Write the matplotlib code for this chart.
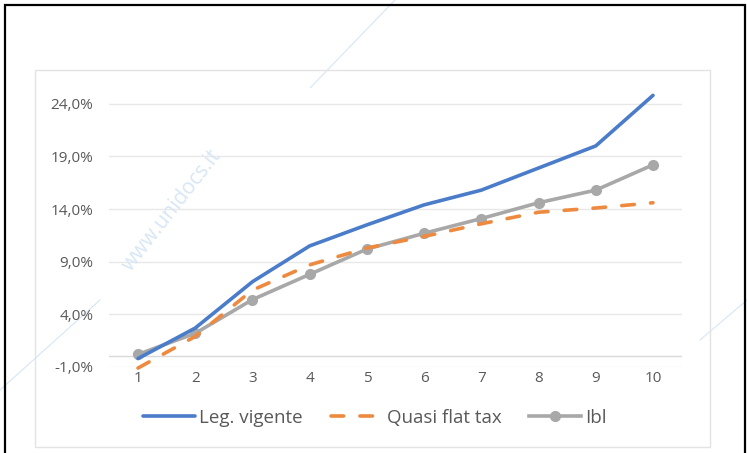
import matplotlib.pyplot as plt
from matplotlib.patches import Rectangle
from matplotlib.lines import Line2D

# data (percent values)
deciles = [1, 2, 3, 4, 5, 6, 7, 8, 9, 10]
leg_vigente = [-0.2, 2.7, 7.1, 10.5, 12.5, 14.4, 15.8, 17.9, 20.0, 24.8]
quasi_flat = [-1.1, 1.9, 6.3, 8.7, 10.3, 11.4, 12.6, 13.7, 14.1, 14.6]
ibl = [0.2, 2.2, 5.4, 7.8, 10.2, 11.7, 13.1, 14.6, 15.8, 18.2]
y_ticks = [-1, 4, 9, 14, 19, 24]

W, H = 747, 453
plt.rcParams['font.family'] = ['Open Sans', 'DejaVu Sans']

fig = plt.figure(figsize=(W / 100, H / 100), dpi=100)

def fx(px):
    return px / W

def fy(py):
    return 1 - py / H

# outer black frame and inner light chart-area box
fig.patches.append(Rectangle((fx(5), fy(470)), fx(740), 465 / H, transform=fig.transFigure,
                             fill=False, edgecolor='black', linewidth=1.6))
fig.patches.append(Rectangle((fx(35), fy(447)), fx(675), 377 / H, transform=fig.transFigure,
                             fill=False, edgecolor='#E3E3E3', linewidth=1.0))

# faint watermark
fig.text(fx(172), fy(210), 'www.unidocs.it', rotation=52, fontsize=15, color='#D8E7F5',
         ha='center', va='center', zorder=0)
fig.add_artist(Line2D([fx(395), fx(255)], [fy(0), fy(145)], color='#D6E6F5', lw=0.8,
                      transform=fig.transFigure, zorder=0))
fig.add_artist(Line2D([fx(100), fx(0)], [fy(300), fy(390)], color='#D6E6F5', lw=0.8,
                      transform=fig.transFigure, zorder=0))
fig.add_artist(Line2D([fx(700), fx(747)], [fy(340), fy(300)], color='#D6E6F5', lw=0.8,
                      transform=fig.transFigure, zorder=0))

ax = fig.add_axes([fx(109.4), fy(367), fx(572.2), (367 - 88) / H])
ax.set_xlim(0.5, 10.5)
ax.set_ylim(-1, 25.5)

ax.plot(deciles, leg_vigente, color='#4A7CC9', lw=2.6, solid_capstyle='round',
        label='Leg. vigente', zorder=3, clip_on=False)
ax.plot(deciles, quasi_flat, color='#EE8A3F', lw=2.6, dashes=(3.5, 4.5),
        dash_capstyle='round', label='Quasi flat tax', zorder=4, clip_on=False)
ax.plot(deciles, ibl, color='#A8A8A8', lw=2.6, marker='o', markersize=7,
        label='Ibl', zorder=2, clip_on=False)

ax.axhline(0, color='#D9D9D9', lw=1.0, zorder=1)
ax.set_yticks(y_ticks)
ax.set_yticklabels([f'{v:.1f}%'.replace('.', ',') for v in y_ticks])
ax.set_xticks(deciles)
ax.grid(axis='y', color='#E8E8E8', lw=1.0, zorder=0)
ax.set_axisbelow(True)
for s in ax.spines.values():
    s.set_visible(False)
ax.tick_params(length=0, labelsize=11, labelcolor='#595959')
ax.tick_params(axis='y', pad=11.5)
ax.tick_params(axis='x', pad=3)

fig.legend(loc='center', bbox_to_anchor=(fx(375), fy(418)), ncol=3, frameon=False,
           fontsize=13.5, handlelength=2.75, columnspacing=1.5, handletextpad=0.22,
           labelcolor='#595959')

fig.savefig('out.png', dpi=100)
